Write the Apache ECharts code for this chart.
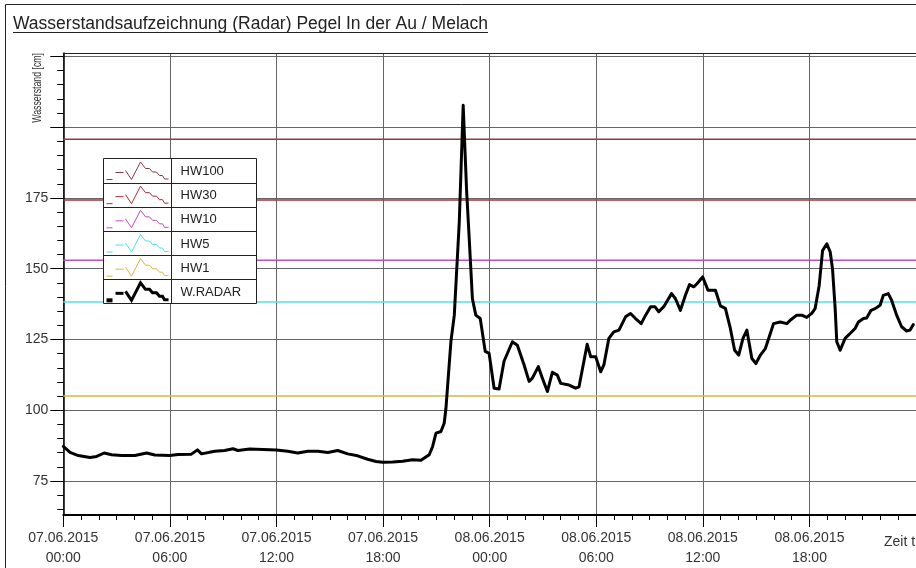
<!DOCTYPE html>
<html>
<head>
<meta charset="utf-8">
<title>Pegel In der Au / Melach</title>
<script src="https://cdn.jsdelivr.net/npm/echarts@6/dist/echarts.min.js"></script>
<style>
  html, body { margin: 0; padding: 0; background: #fff; }
  #chart { width: 916px; height: 568px; }
</style>
</head>
<body>
<div id="chart"></div>
<script>
// Gauge record: water level (radar) at "In der Au" on the Melach, 07.06.2015 - 08.06.2015
const chartTitle = 'Wasserstandsaufzeichnung (Radar) Pegel In der Au / Melach';
const yAxisTitle = 'Wasserstand [cm]';
const xAxisTitle = 'Zeit t';
const firstDay = 7;           // hour 0 = 07.06.2015 00:00
const monthYear = '.06.2015';

// hours since 07.06.2015 00:00
const hours = [
  0.00, 0.38, 0.84, 1.50, 1.88, 2.30, 2.72, 3.28, 4.03, 4.69, 5.15, 5.99,
  6.46, 7.21, 7.55, 7.78, 8.52, 9.08, 9.55, 9.83, 10.49, 11.99, 12.64, 13.20,
  13.76, 14.33, 14.89, 15.45, 16.01, 16.57, 17.13, 17.61, 17.98, 18.54, 19.10, 19.66,
  20.13, 20.60, 20.79, 20.98, 21.26, 21.44, 21.54, 21.82, 22.01, 22.29, 22.51, 22.70,
  22.85, 23.03, 23.22, 23.47, 23.75, 23.97, 24.25, 24.53, 24.81, 25.28, 25.56, 25.94,
  26.22, 26.40, 26.74, 26.97, 27.25, 27.53, 27.81, 28.00, 28.47, 28.84, 29.03, 29.49,
  29.69, 29.97, 30.25, 30.43, 30.71, 30.99, 31.28, 31.65, 31.93, 32.21, 32.53, 32.78,
  33.06, 33.30, 33.52, 33.80, 34.24, 34.46, 34.74, 35.02, 35.25, 35.49, 35.67, 35.99,
  36.29, 36.71, 36.99, 37.27, 37.55, 37.79, 38.02, 38.26, 38.48, 38.76, 38.99, 39.24,
  39.52, 39.80, 39.98, 40.36, 40.73, 40.92, 41.29, 41.57, 41.85, 42.13, 42.32, 42.55,
  42.74, 42.98, 43.17, 43.30, 43.45, 43.54, 43.73, 44.01, 44.29, 44.57, 44.76, 45.04,
  45.22, 45.47, 45.70, 45.98, 46.16, 46.44, 46.63, 46.91, 47.19, 47.47, 47.66, 47.85
];
// water level W.RADAR [cm]
const level = [
  87.2, 85.1, 84.0, 83.3, 83.7, 84.9, 84.3, 84.0, 84.0, 84.9, 84.2, 84.0,
  84.4, 84.5, 86.0, 84.6, 85.5, 85.8, 86.4, 85.8, 86.3, 86.0, 85.5, 84.9,
  85.5, 85.5, 85.1, 85.8, 84.6, 83.9, 82.7, 81.9, 81.6, 81.7, 82.0, 82.5,
  82.3, 84.3, 87.2, 91.9, 92.5, 95.4, 100.7, 124.3, 133.6, 166.5, 207.7, 178.0,
  160.6, 139.4, 133.6, 132.4, 120.8, 120.1, 107.8, 107.5, 117.3, 124.2, 123.0, 116.0,
  110.2, 111.3, 115.4, 111.3, 106.6, 113.4, 112.4, 109.5, 108.9, 107.8, 108.3, 123.3,
  118.9, 118.9, 113.6, 116.0, 125.4, 127.7, 128.3, 133.0, 134.2, 132.4, 130.6, 133.6,
  136.6, 136.6, 134.8, 136.6, 141.2, 139.4, 135.3, 140.6, 144.4, 143.6, 144.7, 147.1,
  142.4, 142.4, 136.9, 136.0, 128.9, 121.2, 119.5, 125.4, 128.3, 118.3, 116.5, 119.5,
  121.8, 127.1, 130.6, 131.2, 130.6, 131.8, 133.6, 133.6, 132.8, 134.2, 135.9, 144.1,
  156.4, 158.8, 155.9, 150.0, 135.9, 124.2, 121.2, 125.4, 127.1, 128.9, 131.2, 132.4,
  132.6, 135.3, 135.9, 137.1, 140.6, 141.2, 138.8, 133.6, 129.5, 128.0, 128.3, 130.3
];
const levelName = 'W.RADAR';

// flood marks (HQ levels) [cm]
const thresholdNames  = ['HW100', 'HW30', 'HW10', 'HW5', 'HW1'];
const thresholdValues = [195.7, 174.3, 153.0, 138.2, 105.0];
const thresholdColors = ['#8e3a3e', '#b02a36', '#c04cc4', '#4fe3e3', '#d9b54a'];

// axis ticks
const yMajorTicks = [75, 100, 125, 150, 175, 200, 225];
const yLabels     = [75, 100, 125, 150, 175];
const yMinorTicks = [65, 70, 80, 85, 90, 95, 105, 110, 115, 120, 130, 135, 140, 145,
                     155, 160, 165, 170, 180, 185, 190, 195, 205, 210, 215, 220];
const xStart = 0, xEnd = 48, xStep = 6;
const yMin = 63, yMax = 226.2;

const FONT = '"Liberation Sans", Arial, Helvetica, sans-serif';
const pad2 = n => (n < 10 ? '0' : '') + n;

function timeLabel(v) {
  if (v % xStep !== 0 || v >= xEnd) return '';
  const day = firstDay + Math.floor(v / 24);
  return pad2(day) + monthYear + '\n' + pad2(v % 24) + ':00';
}

const chart = echarts.init(document.getElementById('chart'), null, { renderer: 'canvas' });

// plot box
const G = { left: 63.3, top: 53, width: 854.4, height: 465.3 };

// title underline width from the rendered text
const measure = document.createElement('canvas').getContext('2d');
const titleFont = '17.5px ' + FONT;
measure.font = titleFont;
const titleWidth = measure.measureText(chartTitle).width;

// legend box
const LG = { x: 103.5, y: 158.5, w: 153, h: 145, split: 68 };
const legendNames  = thresholdNames.concat([levelName]);
const legendColors = thresholdColors.concat(['#000']);
const rowH = LG.h / legendNames.length;
const iconShape = [[22, 12], [28, 21], [37, 3.5], [42, 10], [46, 10], [49, 13.5], [53, 13.5],
                   [56, 17], [59, 17], [61, 20.5], [65, 20.5]];

const legendElements = [{
  type: 'rect', z: 100,
  shape: { x: LG.x, y: LG.y, width: LG.w, height: LG.h },
  style: { fill: '#fff', stroke: '#222', lineWidth: 1 }
}, {
  type: 'line', z: 101,
  shape: { x1: LG.x + LG.split, y1: LG.y, x2: LG.x + LG.split, y2: LG.y + LG.h },
  style: { stroke: '#222', lineWidth: 1 }
}];
legendNames.forEach((name, i) => {
  const top = LG.y + i * rowH;
  const thick = name === levelName;
  const lw = thick ? 3 : 1;
  const col = legendColors[i];
  if (i > 0) {
    legendElements.push({
      type: 'line', z: 101,
      shape: { x1: LG.x, y1: Math.round(top) + 0.5, x2: LG.x + LG.w, y2: Math.round(top) + 0.5 },
      style: { stroke: '#222', lineWidth: 1 }
    });
  }
  legendElements.push({
    type: 'line', z: 102,
    shape: { x1: LG.x + 3, y1: top + 21, x2: LG.x + 9, y2: top + 21 },
    style: { stroke: col, lineWidth: thick ? 4 : 1 }
  }, {
    type: 'line', z: 102,
    shape: { x1: LG.x + 12, y1: top + 14, x2: LG.x + 20, y2: top + 14 },
    style: { stroke: col, lineWidth: lw }
  }, {
    type: 'polyline', z: 102,
    shape: { points: iconShape.map(p => [LG.x + p[0], top + p[1]]) },
    style: { stroke: col, lineWidth: lw, fill: null, lineJoin: thick ? 'miter' : 'round' }
  }, {
    type: 'text', z: 102,
    x: LG.x + LG.split + 9, y: top + rowH / 2 + 1,
    style: { text: name, font: '13px ' + FONT, fill: '#222', verticalAlign: 'middle', align: 'left' }
  });
});

const thresholdSeries = thresholdNames.map((name, i) => ({
  name: name,
  type: 'line',
  data: [[xStart, thresholdValues[i]], [xEnd, thresholdValues[i]]],
  showSymbol: false,
  silent: true,
  z: 2,
  lineStyle: { color: thresholdColors[i], width: 1.5 }
}));

const option = {
  backgroundColor: '#fff',
  animation: false,
  grid: { left: G.left, top: G.top, width: G.width, height: G.height, containLabel: false },
  xAxis: [{
    type: 'value',
    min: xStart, max: xEnd, interval: xStep,
    axisLine: { show: true, lineStyle: { color: '#000', width: 2 } },
    axisTick: { show: true, length: 12, lineStyle: { color: '#000', width: 1 } },
    minorTick: { show: true, splitNumber: 6, length: 5, lineStyle: { color: '#000', width: 1 } },
    axisLabel: {
      formatter: timeLabel, fontFamily: FONT, fontSize: 14, color: '#333',
      lineHeight: 20, margin: 13, showMaxLabel: false
    },
    splitLine: { show: true, lineStyle: { color: '#666', width: 1 } }
  }, {
    type: 'value', position: 'top',
    min: xStart, max: xEnd,
    axisLine: { show: true, lineStyle: { color: '#222', width: 1 } },
    axisTick: { show: false }, axisLabel: { show: false }, splitLine: { show: false }
  }],
  yAxis: [{
    type: 'value',
    min: yMin, max: yMax,
    axisLine: { show: true, lineStyle: { color: '#000', width: 1.5 } },
    axisTick: { show: true, customValues: yMajorTicks, length: 13, lineStyle: { color: '#000', width: 1 } },
    axisLabel: { customValues: yLabels, fontFamily: FONT, fontSize: 14, color: '#333', margin: 15 },
    splitLine: { show: true, lineStyle: { color: '#666', width: 1 } }
  }, {
    type: 'value', position: 'left',
    min: yMin, max: yMax,
    axisLine: { show: false },
    axisTick: { show: true, customValues: yMinorTicks, length: 6, lineStyle: { color: '#000', width: 1 } },
    axisLabel: { show: false },
    splitLine: { show: false }
  }],
  graphic: [
    {
      type: 'rect', z: 0, silent: true,
      shape: { x: 5.5, y: 4.5, width: 1200, height: 1200 },
      style: { fill: null, stroke: '#222', lineWidth: 1 }
    },
    {
      type: 'text', z: 10,
      x: 13, y: 24,
      style: { text: chartTitle, font: titleFont, fill: '#222', verticalAlign: 'middle', align: 'left' }
    },
    {
      type: 'line', z: 10,
      shape: { x1: 13, y1: 32.5, x2: 13 + titleWidth, y2: 32.5 },
      style: { stroke: '#222', lineWidth: 1 }
    },
    {
      type: 'text', z: 10,
      x: 38, y: 53, rotation: Math.PI / 2, scaleX: 0.7,
      style: { text: yAxisTitle, font: '12.5px ' + FONT, fill: '#333', verticalAlign: 'middle', align: 'right' }
    },
    {
      type: 'text', z: 10,
      x: 884, y: 542,
      style: { text: xAxisTitle, font: '14px ' + FONT, fill: '#333', verticalAlign: 'middle', align: 'left' }
    }
  ].concat(legendElements),
  series: thresholdSeries.concat([{
    name: levelName,
    type: 'line',
    data: hours.map((h, i) => [h, level[i]]),
    showSymbol: false,
    silent: true,
    z: 3,
    lineStyle: { color: '#000', width: 3, join: 'round', cap: 'round' }
  }])
};

chart.setOption(option);
</script>
</body>
</html>
